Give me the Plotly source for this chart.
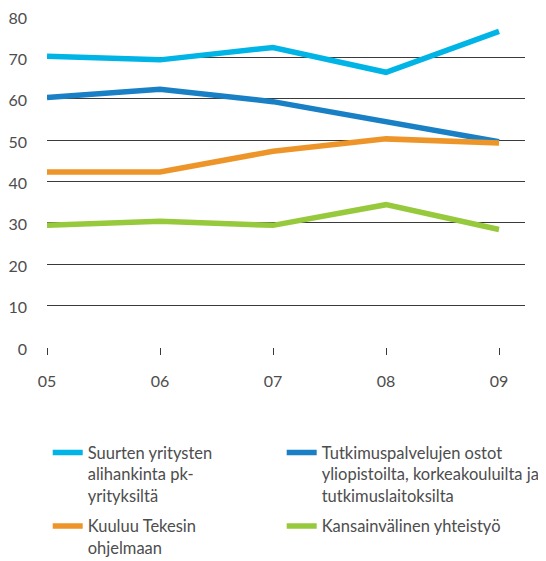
import plotly.graph_objects as go

YEARS = ["05", "06", "07", "08", "09"]

SERIES_NAMES = [
    "Suurten yritysten<br>alihankinta pk-<br>yrityksiltä",
    "Tutkimuspalvelujen ostot<br>yliopistoilta, korkeakouluilta ja<br>tutkimuslaitoksilta",
    "Kuuluu Tekesin<br>ohjelmaan",
    "Kansainvälinen yhteistyö",
]
SUURTEN = [70.3, 69.4, 72.4, 66.4, 76.3]
TUTKIMUS = [60.3, 62.3, 59.3, 54.3, 49.6]
TEKES = [42.3, 42.3, 47.3, 50.3, 49.3]
KANSAINV = [29.4, 30.4, 29.4, 34.4, 28.4]

COLORS = ["#00b5e6", "#1a80c5", "#ee9529", "#97c93d"]
# left column / right column of the legend
LEGENDS = ["legend", "legend2", "legend", "legend2"]

Y_TICKS = [0, 10, 20, 30, 40, 50, 60, 70, 80]

TEXT_COLOR = "#4d4d4d"
GRID_COLOR = "#3a3a3a"


def build_figure():
    x = list(range(len(YEARS)))
    fig = go.Figure()

    all_values = [SUURTEN, TUTKIMUS, TEKES, KANSAINV]
    for i, (name, values, color, leg) in enumerate(zip(SERIES_NAMES, all_values, COLORS, LEGENDS)):
        fig.add_trace(go.Scatter(
            x=x,
            y=values,
            mode="lines",
            name=name,
            legend=leg,
            legendgroup=f"g{i}",
            line=dict(color=color, width=5.5),
            hovertemplate="%{y}<extra></extra>",
        ))

    legend_style = dict(
        orientation="v",
        y=-0.267,
        xanchor="left",
        yanchor="top",
        valign="top",
        itemwidth=30,
        tracegroupgap=6,
        bgcolor="rgba(0,0,0,0)",
        font=dict(size=16.5, color=TEXT_COLOR),
    )

    # the page body adds an 8px margin, so the figure is 8px smaller than the window
    fig.update_layout(
        width=538,
        height=553,
        margin=dict(l=39, r=21, t=7.7, b=214.3, autoexpand=False),
        paper_bgcolor="white",
        plot_bgcolor="white",
        font=dict(family="Lato, sans-serif", size=16, color=TEXT_COLOR),
        showlegend=True,
        legend=dict(x=0.0015, **legend_style),
        legend2=dict(x=0.491, **legend_style),
    )

    fig.update_xaxes(
        range=[0, 4.23],
        tickmode="array",
        tickvals=x,
        ticktext=YEARS,
        showgrid=False,
        zeroline=False,
        showline=False,
        ticks="outside",
        ticklen=7,
        tickwidth=1,
        tickcolor=GRID_COLOR,
        ticklabelstandoff=13,
        fixedrange=True,
    )
    fig.update_yaxes(
        range=[0, 80],
        tickmode="array",
        tickvals=Y_TICKS,
        showgrid=True,
        gridcolor=GRID_COLOR,
        gridwidth=1,
        zeroline=False,
        showline=False,
        ticks="",
        ticklabelstandoff=19,
        ticklabelshift=2,
        ticklabeloverflow="allow",
        fixedrange=True,
    )
    return fig


fig = build_figure()
fig.write_html("out.html")
